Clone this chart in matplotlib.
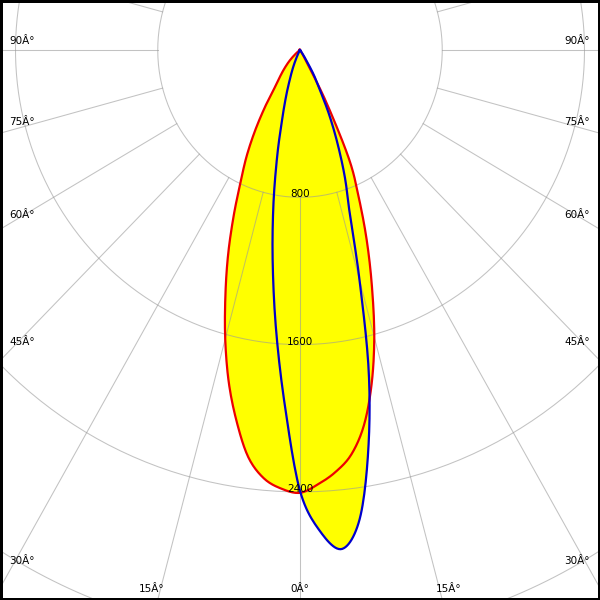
import numpy as np
import matplotlib
matplotlib.use("Agg")
import matplotlib.pyplot as plt

# angles gamma (deg) ; negative = left half of the diagram
angles = np.arange(-60, 60.1, 2.5)

# intensity (cd)
red_cd = [0, 0, 5, 15, 30, 55, 85, 115, 150, 190, 245, 365,
          505, 650, 790, 975, 1182, 1395, 1625, 1850, 2050, 2230, 2335, 2385,
          2405,
          2360, 2300, 2215, 2070, 1860, 1614, 1345, 1096, 860, 650, 320,
          60, 0, 0, 0, 0, 0, 0, 0, 0, 0, 0, 0, 0]
blue_cd = [0, 0, 0, 0, 0, 0, 0, 0, 0, 0, 0, 0,
           5, 20, 50, 100, 160, 255, 385, 595, 864, 1175, 1535, 1937,
           2394,
           2618, 2720, 2570, 2210, 1785, 1294, 930, 740, 555, 390, 235,
           150, 60, 20, 0, 0, 0, 0, 0, 0, 0, 0, 0, 0]

ring_values = [800, 1600, 2400, 3200]
ring_labels = ["800", "1600", "2400"]
side_angles = [90, 75, 60, 45, 30]
bottom_angles = [15, 0]

# picture scale : the diagram is a little squeezed horizontally
X_PER_PX = 800 / 142.25
Y_PER_PX = 800 / 147.3
CX, CY = 300, 50   # centre of the diagram in pixels


def px(x, y):
    # pixel (from top-left) -> data coordinates
    return (x - CX) * X_PER_PX, -(y - CY) * Y_PER_PX


def smooth(x, y, n=12):
    # catmull-rom line shape through the measured points
    p = np.column_stack([x, y])
    p = np.vstack([p[0], p, p[-1]])
    out = []
    tt = np.linspace(0, 1, n, endpoint=False)[:, None]
    for i in range(1, len(p) - 2):
        p0, p1, p2, p3 = p[i - 1], p[i], p[i + 1], p[i + 2]
        seg = 0.5 * (2 * p1 + (p2 - p0) * tt
                     + (2 * p0 - 5 * p1 + 4 * p2 - p3) * tt ** 2
                     + (3 * p1 - p0 - 3 * p2 + p3) * tt ** 3)
        out.append(seg)
    out.append(p[-2][None, :])
    out = np.vstack(out)
    return out[:, 0], out[:, 1]


fig = plt.figure(figsize=(6, 6), dpi=100)
ax = fig.add_axes([0, 0, 1, 1])
ax.set_xlim(-CX * X_PER_PX, (600 - CX) * X_PER_PX)
ax.set_ylim(-(600 - CY) * Y_PER_PX, CY * Y_PER_PX)
ax.set_xticks([])
ax.set_yticks([])
for s in ax.spines.values():
    s.set_linewidth(3.6)
    s.set_color("black")

th = np.radians(angles)
red = np.array(red_cd, dtype=float)
blue = np.array(blue_cd, dtype=float)
rx, ry = smooth(red * np.sin(th), -red * np.cos(th))
bx, by = smooth(blue * np.sin(th), -blue * np.cos(th))

# yellow fill of both curves
ax.fill(rx, ry, color="#ffff00", lw=0, zorder=1)
ax.fill(bx, by, color="#ffff00", lw=0, zorder=1)

# grid : circles and radial lines (from the first circle outwards)
grid_col = "#9a9a9a"
t = np.linspace(0, 2 * np.pi, 400)
for r in ring_values:
    ax.plot(r * np.sin(t), r * np.cos(t), color=grid_col, lw=0.75, alpha=0.6, zorder=2)
for a in range(0, 360, 15):
    ar = np.radians(a)
    ax.plot([800 * np.sin(ar), 5000 * np.sin(ar)],
            [-800 * np.cos(ar), -5000 * np.cos(ar)],
            color=grid_col, lw=0.75, alpha=0.6, zorder=2)

# curves
ax.plot(rx, ry, color="#ee0000", lw=1.6, zorder=3)
ax.plot(bx, by, color="#0000cc", lw=1.6, zorder=4)

fs = 7.5
for v, lab in zip(ring_values, ring_labels):
    ax.text(0, -v, lab, ha="center", va="baseline", fontsize=fs, color="black", zorder=5)

for a in side_angles:
    yy = CY - 8.5 + (300 / np.tan(np.radians(a)) if a != 90 else 0)
    ax.text(*px(9, yy), f"{a}Â°", ha="left", va="center", fontsize=fs, zorder=5)
    ax.text(*px(590, yy), f"{a}Â°", ha="right", va="center", fontsize=fs, zorder=5)

for a in bottom_angles:
    dx = 550 * np.tan(np.radians(a)) + (1.5 if a else 0)
    sides = [-1, 1] if a else [1]
    for sgn in sides:
        ax.text(*px(CX + sgn * dx, 589), f"{a}Â°", ha="center", va="center", fontsize=fs, zorder=5)

fig.savefig("out.png", dpi=100)
